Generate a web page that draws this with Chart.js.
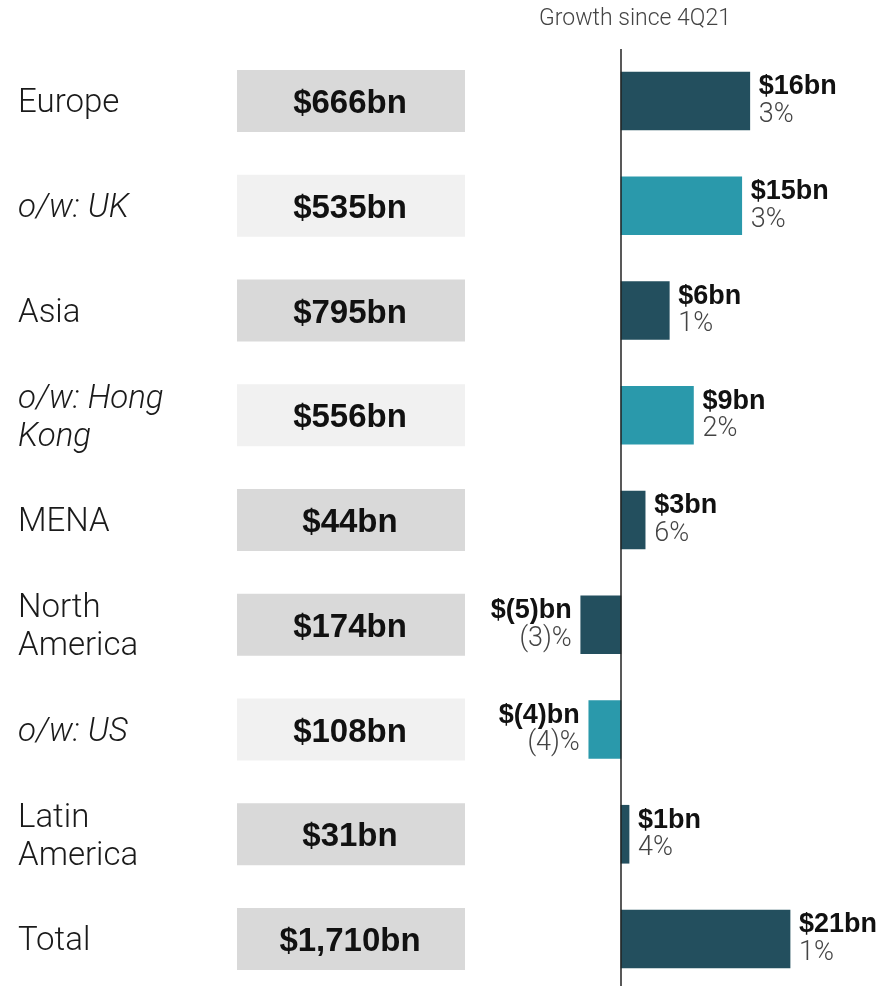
<!DOCTYPE html>
<html>
<head>
<meta charset="utf-8">
<script src="https://cdn.jsdelivr.net/npm/chart.js@4/dist/chart.umd.min.js"></script>
<style>
  html, body { margin: 0; padding: 0; background: #fff; }
  #wrap { width: 881px; height: 986px; position: relative; }
</style>
</head>
<body>
<div id="wrap"><canvas id="chart"></canvas></div>
<script>
// data
const regions = [['Europe'], ['o/w: UK'], ['Asia'], ['o/w: Hong', 'Kong'], ['MENA'],
  ['North', 'America'], ['o/w: US'], ['Latin', 'America'], ['Total']];
const subRow = [false, true, false, true, false, false, true, false, false];
const totals = ['$666bn', '$535bn', '$795bn', '$556bn', '$44bn', '$174bn', '$108bn', '$31bn', '$1,710bn'];
const growthBn = [16, 15, 6, 9, 3, -5, -4, 1, 21];
const growthPct = [3, 3, 1, 2, 6, -3, -4, 4, 1];
const title = 'Growth since 4Q21';

const darkTeal = '#234F5E';
const lightTeal = '#2A99AB';
const fmt = (v, pre, post) => v < 0 ? pre + '(' + (-v) + ')' + post : pre + v + post;

const tablePlugin = {
  id: 'tablePlugin',
  beforeDatasetsDraw(chart) {
    const ctx = chart.ctx;
    const y = chart.scales.y;
    ctx.save();
    // left labels and grey boxes
    regions.forEach((lines, i) => {
      const cy = y.getPixelForValue(i);
      ctx.fillStyle = subRow[i] ? '#F1F1F1' : '#D9D9D9';
      ctx.fillRect(237, cy - 31, 228, 62);
      ctx.fillStyle = '#1a1a1a';
      ctx.font = (subRow[i] ? 'italic ' : '') + '300 33px Roboto, "Liberation Sans", sans-serif';
      ctx.textAlign = 'left';
      ctx.textBaseline = 'middle';
      lines.forEach((t, k) => {
        const off = (k - (lines.length - 1) / 2) * 38;
        ctx.fillText(t, 18, cy + off + 3);
      });
      ctx.fillStyle = '#111';
      ctx.font = 'bold 33px "Liberation Sans", Arial, sans-serif';
      ctx.textAlign = 'center';
      ctx.fillText(totals[i], 350, cy + 3);
    });
    // title
    ctx.fillStyle = '#444';
    ctx.font = '300 23px Roboto, "Liberation Sans", sans-serif';
    ctx.textAlign = 'center';
    ctx.fillText(title, 635, 19);
    ctx.restore();
  },
  afterDatasetsDraw(chart) {
    const ctx = chart.ctx;
    const x = chart.scales.x;
    const y = chart.scales.y;
    const x0 = x.getPixelForValue(0);
    ctx.save();
    // zero line
    ctx.strokeStyle = '#222';
    ctx.lineWidth = 1.5;
    ctx.beginPath();
    ctx.moveTo(x0, 49);
    ctx.lineTo(x0, chart.height);
    ctx.stroke();
    ctx.textBaseline = 'middle';
    growthBn.forEach((v, i) => {
      const cy = y.getPixelForValue(i);
      const xe = x.getPixelForValue(v);
      const neg = v < 0;
      ctx.textAlign = neg ? 'right' : 'left';
      const tx = neg ? xe - 9 : xe + 9;
      ctx.fillStyle = '#111';
      ctx.font = 'bold 27px "Liberation Sans", Arial, sans-serif';
      ctx.fillText(fmt(v, '$', 'bn'), tx, cy - 14);
      ctx.fillStyle = '#444';
      ctx.font = '300 27px Roboto, "Liberation Sans", sans-serif';
      ctx.fillText(fmt(growthPct[i], '', '%'), tx, cy + 14);
    });
    ctx.restore();
  }
};

new Chart(document.getElementById('chart'), {
  type: 'bar',
  data: {
    labels: regions.map(r => r.join(' ')),
    datasets: [{
      data: growthBn,
      backgroundColor: subRow.map(s => s ? lightTeal : darkTeal),
      barThickness: 58,
      clip: false
    }]
  },
  options: {
    indexAxis: 'y',
    responsive: true,
    maintainAspectRatio: false,
    animation: false,
    layout: { padding: { left: 556.6, right: 2.4, top: 101, bottom: 47 } },
    plugins: { legend: { display: false }, tooltip: { enabled: false } },
    scales: {
      x: { min: -8, max: 32, display: false, grid: { display: false } },
      y: { offset: false, display: false, grid: { display: false } }
    }
  },
  plugins: [tablePlugin]
});
</script>
</body>
</html>
